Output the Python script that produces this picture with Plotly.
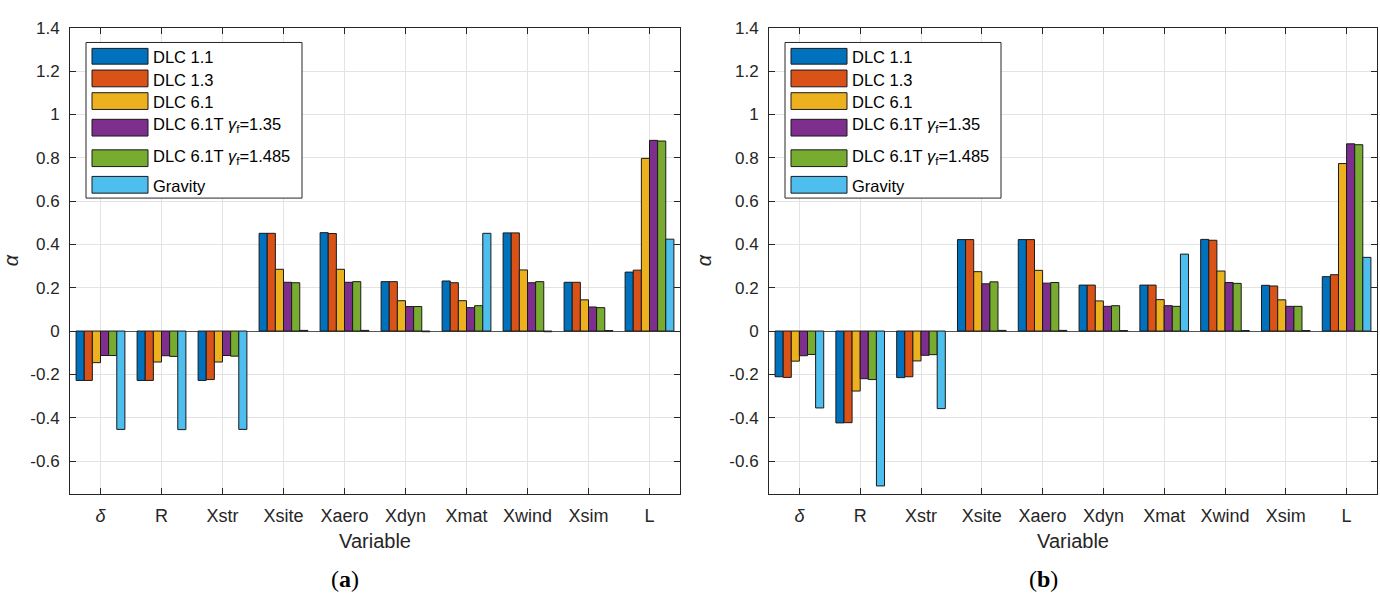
import plotly.graph_objects as go

W, H = 1380, 593

categories = ["<i>δ</i>", "R", "Xstr", "Xsite", "Xaero", "Xdyn", "Xmat", "Xwind", "Xsim", "L"]
series_names = ["DLC 1.1", "DLC 1.3", "DLC 6.1",
                "DLC 6.1T <i>γ</i><sub>f</sub>=1.35",
                "DLC 6.1T <i>γ</i><sub>f</sub>=1.485", "Gravity"]
colors = ["#0072BD", "#D95319", "#EDB120", "#7E2F8E", "#77AC30", "#4DBEEE"]

# panel (a)
a_dlc11 = [-0.228, -0.228, -0.228, 0.451, 0.454, 0.228, 0.231, 0.453, 0.225, 0.272]
a_dlc13 = [-0.228, -0.228, -0.224, 0.451, 0.450, 0.228, 0.223, 0.453, 0.225, 0.281]
a_dlc61 = [-0.146, -0.143, -0.143, 0.285, 0.285, 0.140, 0.140, 0.282, 0.144, 0.797]
a_t135 = [-0.113, -0.114, -0.113, 0.225, 0.225, 0.113, 0.108, 0.223, 0.111, 0.880]
a_t1485 = [-0.113, -0.117, -0.116, 0.223, 0.228, 0.113, 0.117, 0.228, 0.108, 0.877]
a_grav = [-0.454, -0.455, -0.454, 0.003, 0.003, -0.003, 0.451, -0.003, 0.002, 0.424]

# panel (b)
b_dlc11 = [-0.211, -0.424, -0.215, 0.422, 0.422, 0.212, 0.212, 0.423, 0.211, 0.251]
b_dlc13 = [-0.214, -0.423, -0.211, 0.422, 0.422, 0.212, 0.212, 0.419, 0.208, 0.260]
b_dlc61 = [-0.139, -0.277, -0.138, 0.274, 0.280, 0.139, 0.145, 0.277, 0.144, 0.773]
b_t135 = [-0.114, -0.220, -0.112, 0.218, 0.221, 0.114, 0.117, 0.224, 0.114, 0.864]
b_t1485 = [-0.108, -0.224, -0.109, 0.227, 0.224, 0.117, 0.114, 0.220, 0.114, 0.860]
b_grav = [-0.355, -0.715, -0.358, 0.003, 0.003, 0.002, 0.355, 0.002, 0.002, 0.340]

ytick_vals = [-0.6, -0.4, -0.2, 0, 0.2, 0.4, 0.6, 0.8, 1.0, 1.2, 1.4]
ytick_text = ["-0.6", "-0.4", "-0.2", "0", "0.2", "0.4", "0.6", "0.8", "1", "1.2", "1.4"]
x_positions = list(range(1, len(categories) + 1))

FONT = "Liberation Sans, Arial, sans-serif"
AX = "#262626"
GRID = "#e3e3e3"

fig = go.Figure()

panels = [
    ("x", "y", [a_dlc11, a_dlc13, a_dlc61, a_t135, a_t1485, a_grav]),
    ("x2", "y2", [b_dlc11, b_dlc13, b_dlc61, b_t135, b_t1485, b_grav]),
]
for xa, ya, data in panels:
    for name, col, vals in zip(series_names, colors, data):
        fig.add_trace(go.Bar(
            x=x_positions, y=vals, name=name, xaxis=xa, yaxis=ya,
            marker=dict(color=col, line=dict(color="#1a1a1a", width=1)),
            offsetgroup=name, showlegend=False,
        ))

# pixel geometry of the two axes boxes
ax_left = [70, 769]
ax_right = [680, 1377]
ax_top, ax_bot = 19, 492

def xd(i):
    return [ax_left[i] / W, ax_right[i] / W]

ydom = [1 - ax_bot / H, 1 - ax_top / H]

axis_common = dict(
    showline=True, linecolor=AX, linewidth=1, mirror="ticks",
    ticks="inside", tickcolor=AX, ticklen=6, tickwidth=1,
    showgrid=True, gridcolor=GRID, gridwidth=1,
)

for i, (xk, yk) in enumerate([("xaxis", "yaxis"), ("xaxis2", "yaxis2")]):
    anchor_y = "y" if i == 0 else "y2"
    anchor_x = "x" if i == 0 else "x2"
    fig.layout[xk] = dict(
        domain=xd(i), anchor=anchor_y, range=[0.5, 10.5],
        tickmode="array", tickvals=x_positions, ticktext=categories,
        ticklabelstandoff=6,
        tickfont=dict(family=FONT, size=18, color=AX),
        title=dict(text="Variable", font=dict(family=FONT, size=20, color=AX), standoff=8),
        zeroline=False, **axis_common,
    )
    fig.layout[yk] = dict(
        domain=ydom, anchor=anchor_x, range=[-0.75, 1.4],
        tickmode="array", tickvals=ytick_vals, ticktext=ytick_text,
        ticklabelstandoff=6,
        tickfont=dict(family=FONT, size=17, color=AX),
        title=dict(text="<i>α</i>", font=dict(family=FONT, size=20, color=AX), standoff=12),
        zeroline=True, zerolinecolor="#555555", zerolinewidth=1,
        **axis_common,
    )

fig.update_layout(
    width=W, height=H, autosize=False,
    margin=dict(l=0, r=0, t=0, b=0),
    paper_bgcolor="white", plot_bgcolor="white",
    barmode="group", bargap=0.2, bargroupgap=0.0,
    showlegend=False,
)

# custom MATLAB-style legends (boxes with large swatches)
def px_x(px):
    return px / W

def px_y(py):
    return 1 - py / H

swatch_rows = [(40, 56), (62, 79), (85, 102), (112, 129), (143, 160), (170, 187)]
text_rows = [49, 72, 94, 118, 150, 180]
shapes = []
annotations = []
for i in range(2):
    L = ax_left[i]
    bx0, bx1 = L + 16, L + 232
    by0, by1 = 34, 192
    shapes.append(dict(type="rect", xref="paper", yref="paper",
                       x0=px_x(bx0), x1=px_x(bx1), y0=px_y(by1), y1=px_y(by0),
                       line=dict(color=AX, width=1), fillcolor="white", layer="above"))
    for (s0, s1), ty, name, col in zip(swatch_rows, text_rows, series_names, colors):
        shapes.append(dict(type="rect", xref="paper", yref="paper",
                           x0=px_x(L + 22), x1=px_x(L + 78), y0=px_y(s1), y1=px_y(s0),
                           line=dict(color="#1a1a1a", width=1), fillcolor=col, layer="above"))
        annotations.append(dict(xref="paper", yref="paper", x=px_x(L + 81), y=px_y(ty),
                                xanchor="left", yanchor="middle", showarrow=False,
                                text=name, font=dict(family=FONT, size=16.5, color="#000000")))

annotations.append(dict(xref="paper", yref="paper", x=px_x(345), y=px_y(579),
                        xanchor="center", yanchor="middle", showarrow=False,
                        text="(<b>a</b>)", font=dict(family="Liberation Serif, serif", size=24, color="#000")))
annotations.append(dict(xref="paper", yref="paper", x=px_x(1043), y=px_y(579),
                        xanchor="center", yanchor="middle", showarrow=False,
                        text="(<b>b</b>)", font=dict(family="Liberation Serif, serif", size=24, color="#000")))

fig.update_layout(shapes=shapes, annotations=annotations)
fig.write_html("out.html")
